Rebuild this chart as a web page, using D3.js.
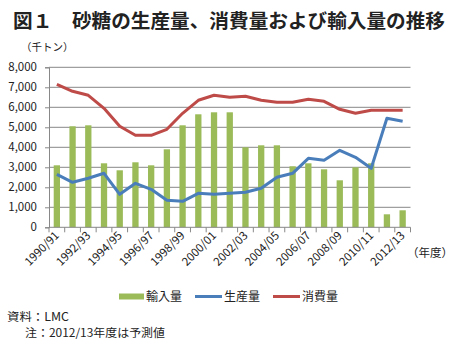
<!DOCTYPE html>
<html><head><meta charset="utf-8">
<script src="https://cdn.jsdelivr.net/npm/d3@7"></script>
<style>
body{margin:0;background:#fff;}
text{font-family:"Noto Sans CJK JP","Noto Sans",sans-serif;}
</style></head>
<body>
<svg id="c" width="453" height="344"></svg>
<script>
const categories = ["1990/91","1991/92","1992/93","1993/94","1994/95","1995/96","1996/97","1997/98","1998/99","1999/00","2000/01","2001/02","2002/03","2003/04","2004/05","2005/06","2006/07","2007/08","2008/09","2009/10","2010/11","2011/12","2012/13"];
const imports = [3100,5050,5100,3200,2850,3250,3100,3900,5100,5650,5750,5750,4000,4100,4100,3050,3200,2900,2350,3000,3200,650,850];
const production = [2650,2250,2450,2700,1650,2200,1900,1350,1300,1700,1650,1700,1750,1950,2500,2700,3450,3350,3850,3500,2950,5450,5300];
const consumption = [7150,6800,6600,5950,5050,4600,4600,4900,5700,6350,6600,6500,6550,6350,6250,6250,6400,6300,5900,5700,5850,5850,5850];
const yTicks = [0,1000,2000,3000,4000,5000,6000,7000,8000];
const seriesNames = ["輸入量","生産量","消費量"];
const colors = {imp:"#9BBB59", prod:"#4A7EBB", cons:"#BE4B48"};

const svg = d3.select("#c");
const pLeft = 49, pRight = 410.5, pTop = 67.3, pBottom = 227.3;

svg.append("text").attr("x",13).attr("y",28).attr("font-size",19).attr("font-weight","bold").attr("fill","#222")
  .attr("textLength",432).attr("lengthAdjust","spacingAndGlyphs")
  .text("図１　砂糖の生産量、消費量および輸入量の推移");
svg.append("text").attr("x",21).attr("y",51).attr("font-size",10.5).attr("fill","#222").text("（千トン）");

const x = d3.scaleBand().domain(categories).range([pLeft,pRight]);
const y = d3.scaleLinear().domain([0,8000]).range([pBottom,pTop]);

// grid
svg.append("g").selectAll("line").data(yTicks.filter(d=>d>0)).join("line")
  .attr("x1",pLeft).attr("x2",pRight).attr("y1",d=>y(d)).attr("y2",d=>y(d))
  .attr("stroke","#888").attr("stroke-width",1);

// y axis
const ya = svg.append("g").attr("transform",`translate(${pLeft},0)`)
  .call(d3.axisLeft(y).tickValues(yTicks).tickSize(4).tickPadding(8).tickFormat(d3.format(",")));
ya.select(".domain").attr("stroke","#888");
ya.selectAll(".tick line").attr("stroke","#888");
ya.selectAll("text").attr("font-size",11.5).attr("fill","#222").attr("font-family","'Liberation Sans',Arial,sans-serif");

// bars
const bw = 6.3;
svg.append("g").selectAll("rect").data(imports).join("rect")
  .attr("x",(d,i)=>x(categories[i])+x.bandwidth()/2-bw/2)
  .attr("width",bw)
  .attr("y",d=>y(d)).attr("height",d=>pBottom-y(d))
  .attr("fill",colors.imp);

// x axis
const boundaries = d3.range(categories.length+1).map(i=>pLeft+i*x.step());
svg.append("line").attr("x1",pLeft).attr("x2",pRight).attr("y1",pBottom).attr("y2",pBottom).attr("stroke","#888");
svg.append("g").selectAll("line").data(boundaries).join("line")
  .attr("x1",d=>d).attr("x2",d=>d).attr("y1",pBottom).attr("y2",pBottom+5).attr("stroke","#888");
svg.append("g").selectAll("text").data(categories.filter((d,i)=>i%2===0)).join("text")
  .attr("transform",d=>`translate(${x(d)+x.bandwidth()/2+3},${pBottom+9}) rotate(-45)`)
  .attr("text-anchor","end").attr("font-size",11.5).attr("fill","#222")
  .attr("font-family","'Liberation Sans',Arial,sans-serif")
  .text(d=>d);
svg.append("text").attr("x",407).attr("y",257).attr("font-size",11.5).attr("fill","#222").text("（年度）");

// lines
const line = d3.line().x((d,i)=>x(categories[i])+x.bandwidth()/2).y(d=>y(d));
svg.append("path").datum(production).attr("d",line).attr("fill","none").attr("stroke",colors.prod).attr("stroke-width",3).attr("stroke-linejoin","round");
svg.append("path").datum(consumption).attr("d",line).attr("fill","none").attr("stroke",colors.cons).attr("stroke-width",3).attr("stroke-linejoin","round");

// legend
const lg = svg.append("g");
lg.append("rect").attr("x",119).attr("y",293.5).attr("width",25).attr("height",6).attr("fill",colors.imp);
lg.append("text").attr("x",146).attr("y",301).attr("font-size",12).attr("fill","#222").text(seriesNames[0]);
lg.append("line").attr("x1",195).attr("x2",222).attr("y1",296.5).attr("y2",296.5).attr("stroke",colors.prod).attr("stroke-width",3);
lg.append("text").attr("x",224).attr("y",301).attr("font-size",12).attr("fill","#222").text(seriesNames[1]);
lg.append("line").attr("x1",273).attr("x2",300).attr("y1",296.5).attr("y2",296.5).attr("stroke",colors.cons).attr("stroke-width",3);
lg.append("text").attr("x",302).attr("y",301).attr("font-size",12).attr("fill","#222").text(seriesNames[2]);

// notes
svg.append("text").attr("x",7).attr("y",320.5).attr("font-size",11.5).attr("fill","#222")
  .attr("textLength",62).attr("lengthAdjust","spacingAndGlyphs").text("資料：LMC");
svg.append("text").attr("x",25).attr("y",337).attr("font-size",11.5).attr("fill","#222")
  .attr("textLength",140).attr("lengthAdjust","spacingAndGlyphs").text("注：2012/13年度は予測値");
</script>
</body></html>
